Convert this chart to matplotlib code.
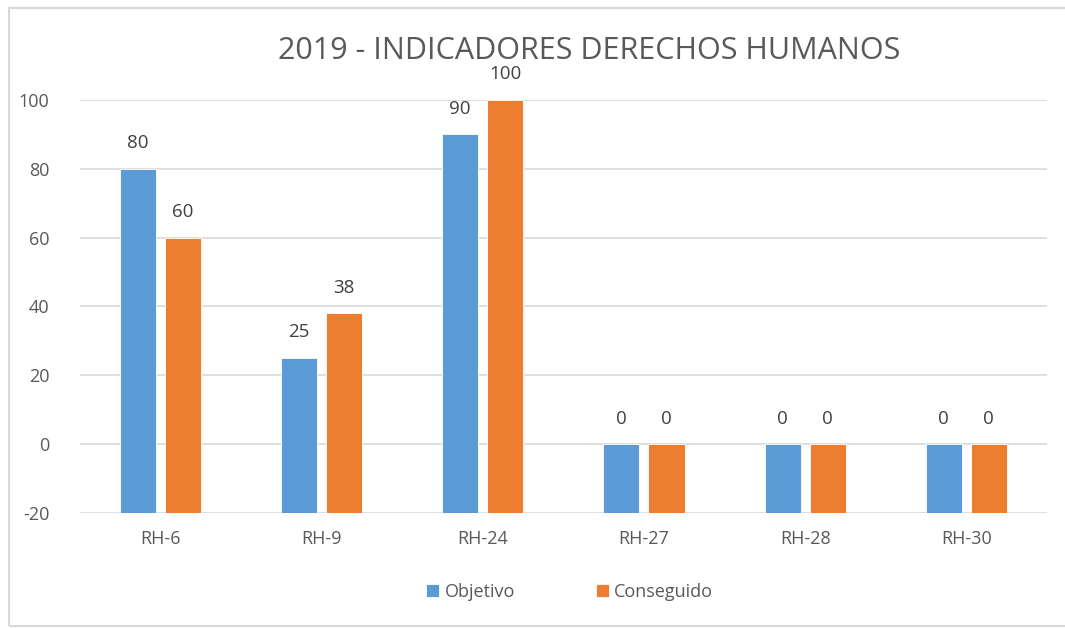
import numpy as np
import matplotlib.pyplot as plt
from matplotlib.patches import Rectangle

categories = ["RH-6", "RH-9", "RH-24", "RH-27", "RH-28", "RH-30"]
objetivo = [80, 25, 90, 0, 0, 0]
conseguido = [60, 38, 100, 0, 0, 0]
series_names = ["Objetivo", "Conseguido"]
colors = ["#5B9BD5", "#ED7D31"]
base = -20
text_color = "#595959"

plt.rcParams['font.family'] = ['Open Sans', 'DejaVu Sans']
plt.rcParams['axes.unicode_minus'] = False


def main():
    fig = plt.figure(figsize=(10.65, 6.28), dpi=100)
    ax = fig.add_axes([0.075, 0.183, 0.908, 0.658])

    x = np.arange(len(categories))
    width = 0.224
    offset = 0.14
    for vals, off, name, col in zip([objetivo, conseguido], [-offset, offset], series_names, colors):
        heights = [v - base for v in vals]
        bars = ax.bar(x + off, heights, width, bottom=base, color=col, label=name,
                      edgecolor="white", linewidth=0.6, zorder=3)
        for b, v in zip(bars, vals):
            ax.annotate(str(v), (b.get_x() + b.get_width() / 2, v), xytext=(0, 12),
                        textcoords="offset points", ha="center", va="bottom",
                        fontsize=13.5, color="#404040")

    ax.set_xlim(-0.5, len(categories) - 0.5)
    ax.set_ylim(-20, 100)
    ax.set_yticks(range(-20, 101, 20))
    ax.set_xticks(x)
    ax.set_xticklabels(categories)
    ax.grid(axis="y", color="#D9D9D9", linewidth=1.2, zorder=0)
    for s in ax.spines.values():
        s.set_visible(False)
    ax.tick_params(length=0, labelsize=13, colors=text_color, pad=12)
    ax.tick_params(axis="y", pad=22)

    fig.text(0.553, 0.918, "2019 - INDICADORES DERECHOS HUMANOS", ha="center", va="center",
             fontsize=22, color=text_color)

    leg = fig.legend(loc="center", bbox_to_anchor=(0.535, 0.058), ncol=2, frameon=False,
                     handlelength=0.7, handleheight=0.7, handletextpad=0.3, columnspacing=4.5,
                     prop={'size': 13})
    for t in leg.get_texts():
        t.set_color(text_color)

    fig.patches.append(Rectangle((0.008, 0.003), 1.0, 0.985, transform=fig.transFigure,
                                 fill=False, edgecolor="#D9D9D9", linewidth=1.5))

    fig.savefig("out.png", dpi=100)
    plt.close(fig)


if __name__ == "__main__":
    main()
